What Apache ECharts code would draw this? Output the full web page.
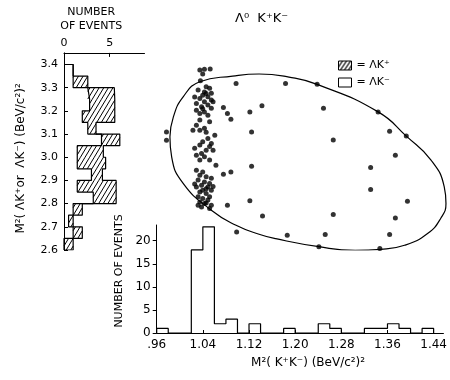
<!DOCTYPE html>
<html>
<head>
<meta charset="utf-8">
<script src="https://cdn.jsdelivr.net/npm/echarts@6/dist/echarts.min.js"></script>
<style>
  html, body { margin: 0; padding: 0; background: #fff; }
  #main { width: 450px; height: 380px; }
</style>
</head>
<body>
<div id="main"></div>
<script>
// M^2(Lambda K) projection, bins of 0.05 starting at 2.60 (bottom to top)
var lkLow   = [2.60, 2.65, 2.70, 2.75, 2.80, 2.85, 2.90, 2.95, 3.00, 3.05, 3.10, 3.15, 3.20, 3.25, 3.30, 3.35];
var lkMinus = [0, 1, 0.5, 1, 3.2, 1.45, 3.0, 1.45, 1.45, 4.1, 2.6, 2.0, 2.8, 2.6, 1, 1];      // open part
var lkPlus  = [1, 1, 0.5, 1, 2.5, 4.25, 1.2, 3.1, 2.85, 2.0, 0.9, 3.55, 2.75, 2.9, 1.6, 0];   // hatched part
var lkBinW = 0.05;
var lkTicks = [2.6, 2.7, 2.8, 2.9, 3.0, 3.1, 3.2, 3.3, 3.4];
var lkCountTicks = [0, 5];

// M^2(K+K-) projection, bins of 0.02 starting at .96
var kkLow = [0.96, 0.98, 1.00, 1.02, 1.04, 1.06, 1.08, 1.10, 1.12, 1.14, 1.16, 1.18,
             1.20, 1.22, 1.24, 1.26, 1.28, 1.30, 1.32, 1.34, 1.36, 1.38, 1.40, 1.42];
var kkCounts = [1, 0, 0, 18, 23, 2, 3, 0, 2, 0, 0, 1, 0, 0, 2, 1, 0, 0, 1, 1, 2, 1, 0, 1];
var kkBinW = 0.02;
var kkTicks = [0.96, 1.04, 1.12, 1.20, 1.28, 1.36, 1.44];
var countTicks = [0, 5, 10, 15, 20];

// Dalitz plot points [M^2(K+K-), M^2(Lambda K)]
var phiBandPoints = [
  [1.035,3.365],[1.043,3.368],[1.053,3.369],[1.040,3.348],[1.036,3.319],
  [1.046,3.294],[1.052,3.287],[1.043,3.272],[1.055,3.266],[1.040,3.258],[1.049,3.251],
  [1.035,3.244],[1.055,3.237],[1.043,3.230],[1.029,3.223],[1.049,3.216],[1.038,3.209],
  [1.055,3.202],[1.029,3.194],[1.043,3.187],[1.035,3.180],[1.049,3.173],
  [1.032,3.280],[1.058,3.230],[1.026,3.250],[1.046,3.265],[1.040,3.200],
  [1.052,3.145],[1.035,3.152],[1.023,3.109],[1.035,3.109],[1.043,3.117],[1.061,3.088],
  [1.049,3.074],[1.040,3.060],[1.055,3.053],[1.035,3.046],[1.026,3.032],[1.046,3.024],
  [1.038,3.010],[1.058,3.024],[1.029,3.003],[1.043,2.996],[1.052,2.982],[1.035,2.982],
  [1.063,2.960],[1.029,3.130],[1.046,3.100],[1.052,3.040],
  [1.029,2.939],[1.040,2.932],[1.035,2.918],[1.046,2.911],[1.032,2.897],[1.043,2.889],
  [1.052,2.883],[1.038,2.875],[1.029,2.868],[1.049,2.868],[1.040,2.854],[1.055,2.854],
  [1.035,2.847],[1.046,2.840],[1.032,2.826],[1.052,2.826],[1.040,2.819],[1.049,2.812],
  [1.035,2.804],[1.043,2.798],[1.055,2.790],[1.038,2.783],[1.052,2.776],
  [1.058,2.870],[1.026,2.880],[1.046,2.860],[1.055,2.905],[1.032,2.790],[1.046,2.800]
];
var otherPoints = [
  [1.098,3.308],[1.184,3.308],[1.239,3.304],[1.076,3.206],[1.083,3.180],[1.089,3.156],
  [1.122,3.187],[1.143,3.213],[1.125,3.102],[1.125,2.956],[1.076,2.922],[1.089,2.932],
  [1.083,2.790],[1.122,2.809],[1.144,2.744],[1.099,2.677],[1.187,2.663],[0.977,3.102],
  [0.977,3.066],[1.250,3.202],[1.345,3.187],[1.365,3.105],[1.394,3.084],[1.267,3.067],
  [1.375,3.003],[1.332,2.951],[1.332,2.857],[1.396,2.807],[1.267,2.751],[1.375,2.736],
  [1.253,2.666],[1.365,2.666],[1.242,2.614],[1.348,2.606]
];
// kinematic boundary
var boundary = [
  [0.983,3.081],[0.989,3.166],[1.006,3.251],[1.035,3.315],[1.092,3.339],[1.138,3.348],
  [1.190,3.335],[1.239,3.304],[1.345,3.187],[1.394,3.084],[1.437,2.982],[1.460,2.868],
  [1.463,2.798],[1.454,2.735],[1.431,2.670],[1.391,2.620],[1.350,2.603],[1.305,2.599],
  [1.242,2.614],[1.167,2.648],[1.138,2.667],[1.098,2.705],[1.055,2.769],[1.006,2.883],
  [0.986,2.996],[0.983,3.081]
];

function r3(v) { return Math.round(v * 1000) / 1000; }

// step outlines: total of the left histogram, the open/hatched border, and the bottom histogram
function stepOutline(vals) {
  var pts = [[0, lkLow[0]]];
  lkLow.forEach(function (lo, i) {
    pts.push([vals[i], lo], [vals[i], r3(lo + lkBinW)]);
  });
  pts.push([0, r3(lkLow[lkLow.length - 1] + lkBinW)]);
  return pts;
}
var lkTotal = lkMinus.map(function (v, i) { return v + lkPlus[i]; });
var lkOutline = stepOutline(lkTotal);
var lkInner = stepOutline(lkMinus);

var kkOutline = [[kkLow[0], 0]];
kkLow.forEach(function (lo, i) {
  kkOutline.push([lo, kkCounts[i]], [r3(lo + kkBinW), kkCounts[i]]);
});
kkOutline.push([r3(kkLow[kkLow.length - 1] + kkBinW), 0]);

var hatchData = lkPlus.map(function (v, i) {
  return [lkMinus[i], lkMinus[i] + v, lkLow[i], r3(lkLow[i] + lkBinW)];
});

// small hatch tile, only used for the legend icon
var hc = document.createElement('canvas');
hc.width = 4; hc.height = 6;
var g = hc.getContext('2d');
g.strokeStyle = '#000'; g.lineWidth = 1.2;
g.beginPath();
g.moveTo(0, 6); g.lineTo(4, 0);
g.moveTo(-1, 1.5); g.lineTo(1, -1.5);
g.moveTo(3, 7.5); g.lineTo(5, 4.5);
g.stroke();
var hatch = { image: hc, repeat: 'repeat' };

var FONT = 'DejaVu Sans';
var axisBase = {
  axisLine: { show: true, lineStyle: { color: '#000', width: 1 } },
  splitLine: { show: false },
  axisLabel: { color: '#000', fontFamily: FONT, fontSize: 11 },
  nameTextStyle: { color: '#000', fontFamily: FONT, fontSize: 11 }
};

var myChart = echarts.init(document.getElementById('main'));
var option = {
  animation: false,
  backgroundColor: '#fff',
  title: {
    text: 'Λ⁰  K⁺K⁻',
    left: 230, top: 7,
    textStyle: { fontFamily: FONT, fontSize: 13, fontWeight: 'normal', color: '#000' }
  },
  legend: {
    orient: 'vertical',
    left: 333, top: 55,
    itemWidth: 13, itemHeight: 9, itemGap: 6,
    selectedMode: false,
    textStyle: { fontFamily: FONT, fontSize: 11, color: '#000' },
    data: [
      { name: '= ΛK⁺', icon: 'rect', itemStyle: { color: hatch, borderColor: '#000', borderWidth: 1 } },
      { name: '= ΛK⁻', icon: 'rect', itemStyle: { color: '#fff', borderColor: '#000', borderWidth: 1 } }
    ]
  },
  grid: [
    { left: 64, top: 50, width: 80.5, height: 200 },
    { left: 156.7, top: 50, width: 295.8, height: 200 },
    { left: 156.7, top: 225, width: 288.3, height: 108 }
  ],
  xAxis: [
    echarts.util.merge({
      gridIndex: 0, type: 'value', position: 'top', min: 0, max: 8.8,
      axisTick: { inside: true, length: 4, customValues: lkCountTicks },
      axisLabel: { customValues: lkCountTicks, margin: 4 },
      name: 'NUMBER\nOF EVENTS', nameLocation: 'middle', nameGap: 18,
      nameTextStyle: { padding: [0, 26, 0, 0], lineHeight: 14 }
    }, axisBase, false),
    { gridIndex: 1, type: 'value', min: 0.96, max: 1.47, show: false },
    echarts.util.merge({
      gridIndex: 2, type: 'value', min: 0.96, max: 1.457,
      axisTick: { inside: true, length: 3, customValues: kkTicks },
      axisLabel: {
        customValues: kkTicks, margin: 6, fontSize: 12,
        formatter: function (v) { return v.toFixed(2).replace(/^0/, ''); }
      },
      name: 'M²( K⁺K⁻) (BeV/c²)²', nameLocation: 'middle', nameGap: 24,
      nameTextStyle: { fontSize: 12, padding: [0, 0, 0, 16] }
    }, axisBase, false)
  ],
  yAxis: [
    echarts.util.merge({
      gridIndex: 0, type: 'value', min: 2.6, max: 3.45,
      axisTick: { inside: true, length: 4, customValues: lkTicks },
      axisLabel: {
        customValues: lkTicks, margin: 6,
        formatter: function (v) { return v.toFixed(1); }
      },
      name: 'M²( ΛK⁺or  ΛK⁻) (BeV/c²)²', nameLocation: 'middle', nameGap: 37,
      nameTextStyle: { fontSize: 12, padding: [0, 14, 0, 0] }
    }, axisBase, false),
    { gridIndex: 1, type: 'value', min: 2.6, max: 3.45, show: false },
    echarts.util.merge({
      gridIndex: 2, type: 'value', min: 0, max: 23.4,
      axisTick: { inside: false, length: 4, customValues: countTicks },
      axisLabel: { customValues: countTicks, margin: 6, fontSize: 12 },
      name: 'NUMBER OF EVENTS', nameLocation: 'middle', nameGap: 24,
      nameTextStyle: { fontSize: 11, padding: [0, 0, 0, 16] }
    }, axisBase, false)
  ],
  series: [
    {
      name: '= ΛK⁺',
      type: 'custom',
      xAxisIndex: 0, yAxisIndex: 0,
      data: hatchData,
      encode: { x: [0, 1], y: [2, 3] },
      renderItem: function (params, api) {
        if (api.value(1) - api.value(0) <= 0) return;
        var p0 = api.coord([api.value(0), api.value(3)]);
        var p1 = api.coord([api.value(1), api.value(2)]);
        var x0 = p0[0], y0 = p0[1], x1 = p1[0], y1 = p1[1];
        var s = 0.6, step = 4.6, children = [];
        // hatch lines x + s*y = k, clipped to the bin
        var kMin = x0 + s * y0, kMax = x1 + s * y1;
        for (var k = Math.ceil(kMin / step) * step; k <= kMax; k += step) {
          var ya = Math.max(y0, (k - x1) / s), yb = Math.min(y1, (k - x0) / s);
          if (yb <= ya) continue;
          children.push({
            type: 'line',
            shape: { x1: k - s * ya, y1: ya, x2: k - s * yb, y2: yb },
            style: { stroke: '#000', lineWidth: 1 }
          });
        }
        return { type: 'group', children: children };
      },
      itemStyle: { color: hatch, borderColor: '#000', borderWidth: 1 }
    },
    {
      name: '= ΛK⁻',
      type: 'line',
      xAxisIndex: 0, yAxisIndex: 0,
      data: lkOutline,
      symbol: 'none',
      lineStyle: { color: '#000', width: 1.2 },
      itemStyle: { color: '#fff', borderColor: '#000' }
    },
    {
      name: 'open/hatched border',
      type: 'line',
      xAxisIndex: 0, yAxisIndex: 0,
      data: lkInner,
      symbol: 'none',
      lineStyle: { color: '#000', width: 1.2 }
    },
    {
      name: 'K+K- mass',
      type: 'line',
      xAxisIndex: 2, yAxisIndex: 2,
      data: kkOutline,
      symbol: 'none',
      lineStyle: { color: '#000', width: 1.2 }
    },
    {
      name: 'boundary',
      type: 'line',
      xAxisIndex: 1, yAxisIndex: 1,
      data: boundary,
      smooth: 0.5,
      symbol: 'none',
      lineStyle: { color: '#000', width: 1.2 }
    },
    {
      name: 'events',
      type: 'scatter',
      xAxisIndex: 1, yAxisIndex: 1,
      data: phiBandPoints.concat(otherPoints),
      symbolSize: 5,
      itemStyle: { color: '#000' }
    }
  ]
};
myChart.setOption(option);
</script>
</body>
</html>
